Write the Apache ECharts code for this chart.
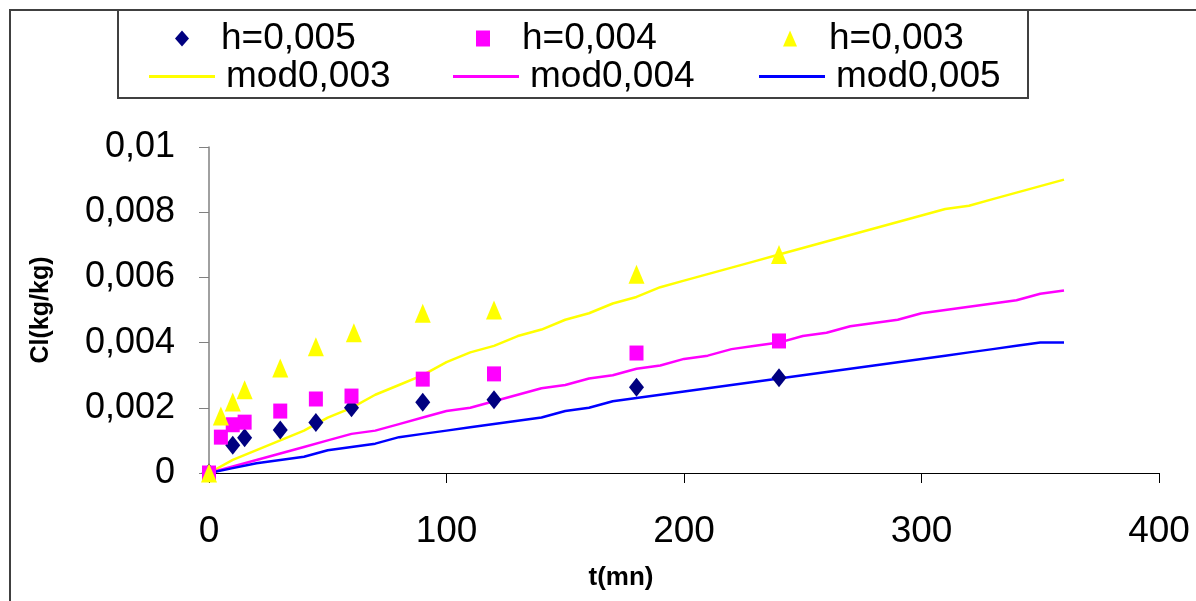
<!DOCTYPE html>
<html>
<head>
<meta charset="utf-8">
<title>Cl vs t</title>
<script src="https://cdn.jsdelivr.net/npm/echarts@6.0.0/dist/echarts.min.js"></script>
<style>
  html, body { margin: 0; padding: 0; background: #fff; }
  #chart { width: 1196px; height: 601px; }
</style>
</head>
<body>
<div id="chart"></div>
<script>
// measured points
const tH005 = [0, 10, 15, 30, 45, 60, 90, 120, 180, 240];
const h005 = [0, 0.00085, 0.00108, 0.00132, 0.00155, 0.002, 0.00217, 0.00225, 0.00263, 0.00292];

const tH004 = [0, 5, 10, 15, 30, 45, 60, 90, 120, 180, 240];
const h004 = [0, 0.0011, 0.00148, 0.00156, 0.0019, 0.00227, 0.00236, 0.00288, 0.00304, 0.00368, 0.00405];

const tH003 = [0, 5, 10, 15, 30, 45, 61, 90, 120, 180, 240];
const h003 = [0, 0.00175, 0.00218, 0.00255, 0.00322, 0.00387, 0.0043, 0.0049, 0.005, 0.0061, 0.0067];

// model curves
const tModel = [0, 10, 20, 30, 40, 50, 60, 70, 80, 90, 100, 110, 120, 130, 140, 150, 160, 170, 180,
  190, 200, 210, 220, 230, 240, 250, 260, 270, 280, 290, 300, 310, 320, 330, 340, 350, 360];
const mod003 = [0, 0.0004, 0.0007, 0.001, 0.0013, 0.0017, 0.002, 0.0024, 0.0027, 0.003, 0.0034, 0.0037,
  0.0039, 0.0042, 0.0044, 0.0047, 0.0049, 0.0052, 0.0054, 0.0057, 0.0059, 0.0061, 0.0063, 0.0065, 0.0067,
  0.0069, 0.0071, 0.0073, 0.0075, 0.0077, 0.0079, 0.0081, 0.0082, 0.0084, 0.0086, 0.0088, 0.009];
const mod004 = [0, 0.0002, 0.0004, 0.0006, 0.0008, 0.001, 0.0012, 0.0013, 0.0015, 0.0017, 0.0019, 0.002,
  0.0022, 0.0024, 0.0026, 0.0027, 0.0029, 0.003, 0.0032, 0.0033, 0.0035, 0.0036, 0.0038, 0.0039, 0.004,
  0.0042, 0.0043, 0.0045, 0.0046, 0.0047, 0.0049, 0.005, 0.0051, 0.0052, 0.0053, 0.0055, 0.0056];
const mod005 = [0, 0.00015, 0.0003, 0.0004, 0.0005, 0.0007, 0.0008, 0.0009, 0.0011, 0.0012, 0.0013, 0.0014,
  0.0015, 0.0016, 0.0017, 0.0019, 0.002, 0.0022, 0.0023, 0.0024, 0.0025, 0.0026, 0.0027, 0.0028, 0.0029,
  0.003, 0.0031, 0.0032, 0.0033, 0.0034, 0.0035, 0.0036, 0.0037, 0.0038, 0.0039, 0.004, 0.004];

const xTicks = [0, 100, 200, 300, 400];
const yTicks = [0, 0.002, 0.004, 0.006, 0.008, 0.01];

const pairs = (xs, ys) => xs.map((x, i) => [x, ys[i]]);
const FONT = "'Liberation Sans', Arial, sans-serif";

const chart = echarts.init(document.getElementById("chart"), null, { renderer: "canvas" });

// one legend per item so each sits where it does in the original
function legendItem(name, left, top, isLine) {
  return {
    data: [isLine ? { name: name, icon: "rect" } : name],
    left: left,
    top: top,
    padding: 0,
    itemWidth: isLine ? 66 : 14,
    itemHeight: isLine ? 3 : 16,
    selectedMode: false,
    textStyle: {
      fontFamily: FONT,
      fontSize: 37,
      color: "#000",
      padding: [0, 0, 0, isLine ? 6 : 27],
    },
  };
}

const option = {
  animation: false,
  backgroundColor: "#fff",
  textStyle: { fontFamily: FONT },
  grid: { left: 209, right: 37, top: 147, bottom: 128 },
  legend: [
    legendItem("h=0,005", 175, 20, false),
    legendItem("h=0,004", 476, 20, false),
    legendItem("h=0,003", 783, 20, false),
    legendItem("mod0,003", 149, 58, true),
    legendItem("mod0,004", 453, 58, true),
    legendItem("mod0,005", 759, 58, true),
  ],
  xAxis: {
    type: "value",
    min: xTicks[0],
    max: xTicks[xTicks.length - 1],
    interval: xTicks[1] - xTicks[0],
    axisLine: { lineStyle: { color: "#000", width: 1 } },
    axisTick: { length: 10, lineStyle: { color: "#000" } },
    axisLabel: { fontSize: 37, color: "#000", margin: 40, fontFamily: FONT },
    splitLine: { show: false },
  },
  yAxis: {
    type: "value",
    min: yTicks[0],
    max: yTicks[yTicks.length - 1],
    interval: yTicks[1] - yTicks[0],
    axisLine: { show: true, lineStyle: { color: "#808080", width: 1.5 } },
    axisTick: { show: true, length: 10, lineStyle: { color: "#808080" } },
    axisLabel: {
      fontSize: 36,
      color: "#000",
      margin: 34,
      fontFamily: FONT,
      formatter: (v) => String(+v.toFixed(3)).replace(".", ","),
    },
    splitLine: { show: false },
  },
  graphic: [
    // outer chart border (left and top)
    { type: "polyline", shape: { points: [[10, 601], [10, 10], [1196, 10]] },
      style: { stroke: "#404040", lineWidth: 2, fill: null } },
    // legend box
    { type: "rect", shape: { x: 118, y: 10, width: 910, height: 88 },
      style: { stroke: "#404040", lineWidth: 2, fill: null }, z: -1 },
    {
      type: "text", x: 41, y: 310, rotation: Math.PI / 2,
      style: { text: "Cl(kg/kg)", font: "bold 25px " + FONT, fill: "#000", align: "center", verticalAlign: "middle" },
    },
    {
      type: "text", x: 621, y: 578,
      style: { text: "t(mn)", font: "bold 26px " + FONT, fill: "#000", align: "center", verticalAlign: "middle" },
    },
  ],
  series: [
    {
      name: "h=0,005", type: "scatter", symbol: "diamond", symbolSize: [15, 19], z: 4,
      itemStyle: { color: "#000080", opacity: 1 }, data: pairs(tH005, h005),
    },
    {
      name: "h=0,004", type: "scatter", symbol: "rect", symbolSize: [14, 15], z: 4,
      itemStyle: { color: "#ff00ff", opacity: 1 }, data: pairs(tH004, h004),
    },
    {
      name: "h=0,003", type: "scatter", symbol: "triangle", symbolSize: [16, 19], z: 4,
      itemStyle: { color: "#ffff00", opacity: 1 }, data: pairs(tH003, h003),
    },
    {
      name: "mod0,003", type: "line", symbol: "none", showSymbol: false,
      lineStyle: { color: "#ffff00", width: 2.5 }, itemStyle: { color: "#ffff00" },
      data: pairs(tModel, mod003),
    },
    {
      name: "mod0,004", type: "line", symbol: "none", showSymbol: false,
      lineStyle: { color: "#ff00ff", width: 2.5 }, itemStyle: { color: "#ff00ff" },
      data: pairs(tModel, mod004),
    },
    {
      name: "mod0,005", type: "line", symbol: "none", showSymbol: false,
      lineStyle: { color: "#0000ff", width: 2.5 }, itemStyle: { color: "#0000ff" },
      data: pairs(tModel, mod005),
    },
  ],
};

chart.setOption(option);
window.addEventListener("resize", chart.resize);
</script>
</body>
</html>
